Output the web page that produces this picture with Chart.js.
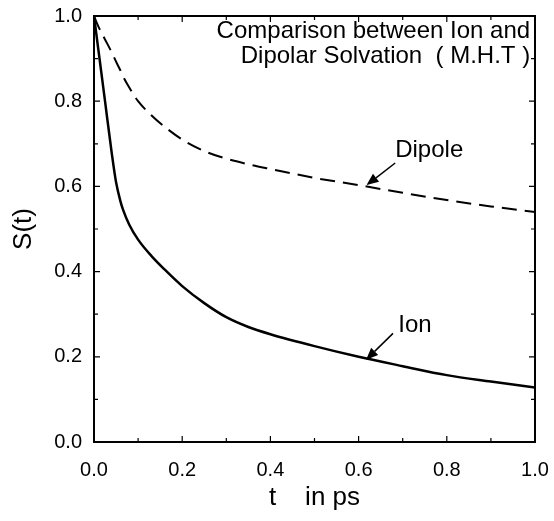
<!DOCTYPE html>
<html>
<head>
<meta charset="utf-8">
<script src="https://cdn.jsdelivr.net/npm/chart.js@4.4.1/dist/chart.umd.min.js"></script>
<style>
  html, body { margin: 0; padding: 0; background: #fff; }
  #wrap { width: 554px; height: 521px; }
</style>
</head>
<body>
<div id="wrap"><canvas id="c" width="554" height="521"></canvas></div>
<script>
// ---- data ----
const tValues = [0, 0.01, 0.025, 0.04, 0.05, 0.06, 0.066, 0.08, 0.1, 0.13, 0.16, 0.2, 0.25, 0.3, 0.35, 0.4, 0.5, 0.6, 0.7, 0.8, 0.9, 1.0];
const ionS    = [1.0, 0.92, 0.80, 0.68, 0.61, 0.565, 0.545, 0.51, 0.475, 0.437, 0.405, 0.366, 0.326, 0.293, 0.27, 0.253, 0.225, 0.200, 0.178, 0.157, 0.142, 0.128];
const dipoleS = [1.0, 0.975, 0.945, 0.915, 0.893, 0.872, 0.858, 0.832, 0.80, 0.767, 0.74, 0.71, 0.683, 0.665, 0.652, 0.641, 0.62, 0.603, 0.585, 0.568, 0.553, 0.54];
const majorTicks = [0, 0.2, 0.4, 0.6, 0.8, 1.0];
const minorTicks = [0.1, 0.3, 0.5, 0.7, 0.9];
const titleLines = ['Comparison between Ion and', 'Dipolar Solvation  ( M.H.T )'];
const titleAnchor = { x: 0.989, y: [0.948, 0.890] };
// annotations in data units: label position, arrow tail, arrow tip
const annotations = [
  { text: 'Dipole', tx: 0.683, ty: 0.669, fromX: 0.683, fromY: 0.655, toX: 0.618, toY: 0.603 },
  { text: 'Ion',    tx: 0.690, ty: 0.259, fromX: 0.678, fromY: 0.255, toX: 0.617, toY: 0.193 }
];
const xTitle = 't    in ps';
const yTitle = 'S(t)';

const FONT = 'Liberation Sans, Arial, Helvetica, sans-serif';

const framePlugin = {
  id: 'frame',
  afterDatasetsDraw(chart) {
    const { ctx, chartArea: a, scales: { x, y } } = chart;
    ctx.save();
    ctx.strokeStyle = '#000';
    ctx.lineWidth = 2;
    ctx.strokeRect(a.left, a.top, a.right - a.left, a.bottom - a.top);
    // inward ticks
    ctx.lineWidth = 1.2;
    const tick = (v, len) => {
      const px = x.getPixelForValue(v), py = y.getPixelForValue(v);
      ctx.beginPath();
      ctx.moveTo(px, a.bottom); ctx.lineTo(px, a.bottom - len);
      ctx.moveTo(px, a.top); ctx.lineTo(px, a.top + len);
      ctx.moveTo(a.left, py); ctx.lineTo(a.left + len, py);
      ctx.moveTo(a.right, py); ctx.lineTo(a.right - len, py);
      ctx.stroke();
    };
    majorTicks.forEach(v => tick(v, 6));
    minorTicks.forEach(v => tick(v, 4));
    // title inside
    ctx.fillStyle = '#000';
    ctx.font = '24px ' + FONT;
    ctx.textAlign = 'right';
    ctx.textBaseline = 'alphabetic';
    titleLines.forEach((l, i) => ctx.fillText(l, x.getPixelForValue(titleAnchor.x), y.getPixelForValue(titleAnchor.y[i])));
    // annotations
    ctx.textAlign = 'left';
    ctx.font = '24px ' + FONT;
    annotations.forEach(an => {
      ctx.fillText(an.text, x.getPixelForValue(an.tx), y.getPixelForValue(an.ty));
      const x1 = x.getPixelForValue(an.fromX), y1 = y.getPixelForValue(an.fromY);
      const x2 = x.getPixelForValue(an.toX), y2 = y.getPixelForValue(an.toY);
      const ang = Math.atan2(y2 - y1, x2 - x1);
      const hl = 12, hw = 5;
      const bx = x2 - hl * Math.cos(ang), by = y2 - hl * Math.sin(ang);
      ctx.lineWidth = 1.5;
      ctx.beginPath(); ctx.moveTo(x1, y1); ctx.lineTo(bx, by); ctx.stroke();
      ctx.beginPath();
      ctx.moveTo(x2, y2);
      ctx.lineTo(bx + hw * Math.sin(ang), by - hw * Math.cos(ang));
      ctx.lineTo(bx - hw * Math.sin(ang), by + hw * Math.cos(ang));
      ctx.closePath(); ctx.fill();
    });
    ctx.restore();
  }
};

new Chart(document.getElementById('c'), {
  type: 'line',
  data: {
    datasets: [
      { label: 'Ion', data: tValues.map((t, i) => ({ x: t, y: ionS[i] })), borderColor: '#000', borderWidth: 2.5, pointRadius: 0, cubicInterpolationMode: 'monotone', fill: false },
      { label: 'Dipole', data: tValues.map((t, i) => ({ x: t, y: dipoleS[i] })), borderColor: '#000', borderWidth: 2, borderDash: [15, 8], pointRadius: 0, cubicInterpolationMode: 'monotone', fill: false }
    ]
  },
  options: {
    responsive: false,
    animation: false,
    devicePixelRatio: 1,
    layout: { padding: { top: 16, right: 19, left: 0, bottom: 0 } },
    plugins: { legend: { display: false }, tooltip: { enabled: false } },
    scales: {
      x: {
        type: 'linear', min: 0, max: 1,
        grid: { display: false, drawTicks: false },
        border: { display: false },
        ticks: { stepSize: 0.2, padding: 16, color: '#000', font: { size: 20, family: FONT }, callback: v => v.toFixed(1), maxRotation: 0 },
        title: { display: true, text: xTitle, color: '#000', font: { size: 26, family: FONT }, padding: { top: 0, bottom: 8 } },
        afterFit: s => { s.height = 79; s.paddingLeft = 0; s.paddingRight = 0; }
      },
      y: {
        type: 'linear', min: 0, max: 1,
        grid: { display: false, drawTicks: false },
        border: { display: false },
        ticks: { stepSize: 0.2, padding: 12, color: '#000', font: { size: 20, family: FONT }, callback: v => v.toFixed(1) },
        title: { display: true, text: yTitle, color: '#000', font: { size: 26, family: FONT }, padding: { top: 8, bottom: 0 } },
        afterFit: s => { s.width = 94; s.paddingTop = 0; s.paddingBottom = 0; }
      }
    }
  },
  plugins: [framePlugin]
});
</script>
</body>
</html>
